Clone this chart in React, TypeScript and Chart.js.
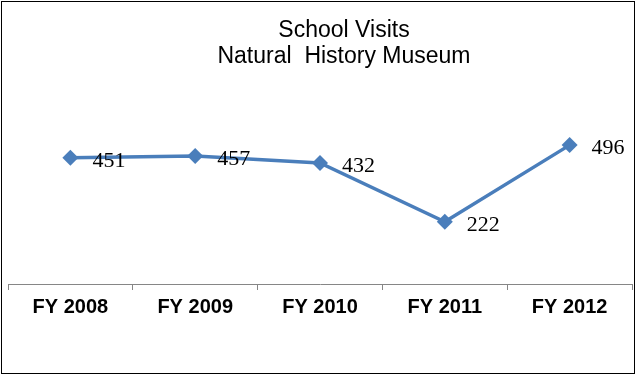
import React, { useEffect, useRef } from "react";
import { Chart, registerables } from "chart.js";

Chart.register(...registerables);

const categories = ["FY 2008", "FY 2009", "FY 2010", "FY 2011", "FY 2012"];
const visits = [451, 457, 432, 222, 496];
const titleLines = ["School Visits", "Natural  History Museum"];

const LINE_COLOR = "#4A7EBB";

const decorPlugin = {
  id: "decor",
  afterDraw(chart: any) {
    const ctx = chart.ctx;
    ctx.save();
    // outer border
    ctx.strokeStyle = "#000";
    ctx.lineWidth = 1;
    ctx.strokeRect(1.5, 1.5, 633, 372);
    // title
    ctx.fillStyle = "#000";
    ctx.font = '23px "Liberation Sans", Arial, sans-serif';
    ctx.textAlign = "center";
    ctx.textBaseline = "alphabetic";
    ctx.fillText(titleLines[0], 344, 37);
    ctx.fillText(titleLines[1], 344, 63);
    // data labels
    const meta = chart.getDatasetMeta(0);
    ctx.font = '22px "Liberation Serif", "Times New Roman", serif';
    ctx.textAlign = "left";
    ctx.textBaseline = "middle";
    meta.data.forEach((pt: any, i: number) => {
      ctx.fillText(String(visits[i]), pt.x + 22, pt.y + 3);
    });
    ctx.restore();
  },
};

export default function App() {
  const ref = useRef<HTMLCanvasElement | null>(null);
  useEffect(() => {
    document.body.style.margin = "0";
    const chart = new Chart(ref.current as HTMLCanvasElement, {
      type: "line",
      data: {
        labels: categories,
        datasets: [
          {
            data: visits,
            borderColor: LINE_COLOR,
            backgroundColor: LINE_COLOR,
            borderWidth: 3.5,
            pointStyle: "rectRot",
            pointRadius: 8,
            pointBackgroundColor: LINE_COLOR,
            pointBorderColor: LINE_COLOR,
            pointBorderWidth: 0,
            tension: 0,
          },
        ],
      },
      options: {
        animation: false,
        responsive: false,
        events: [],
        layout: { padding: { left: 8, right: 8, top: 116, bottom: 0 } },
        plugins: {
          legend: { display: false },
          title: { display: false },
          tooltip: { enabled: false },
        },
        scales: {
          x: {
            offset: true,
            grid: {
              offset: true,
              drawOnChartArea: false,
              drawTicks: true,
              tickLength: 6,
              color: "#868686",
              lineWidth: 1,
            },
            border: { display: true, color: "#868686", width: 1 },
            ticks: {
              color: "#000",
              padding: 5,
              font: { family: '"Liberation Sans", Arial, sans-serif', size: 20, weight: "bold" },
              maxRotation: 0,
            },
            afterFit(scale: any) {
              scale.height = 92;
            },
          },
          y: {
            display: false,
            min: 0,
            max: 600,
          },
        },
      },
      plugins: [decorPlugin],
    } as any);
    return () => chart.destroy();
  }, []);
  return (
    <div style={{ width: 640, height: 376 }}>
      <canvas ref={ref} width={640} height={376} style={{ display: "block" }} />
    </div>
  );
}
